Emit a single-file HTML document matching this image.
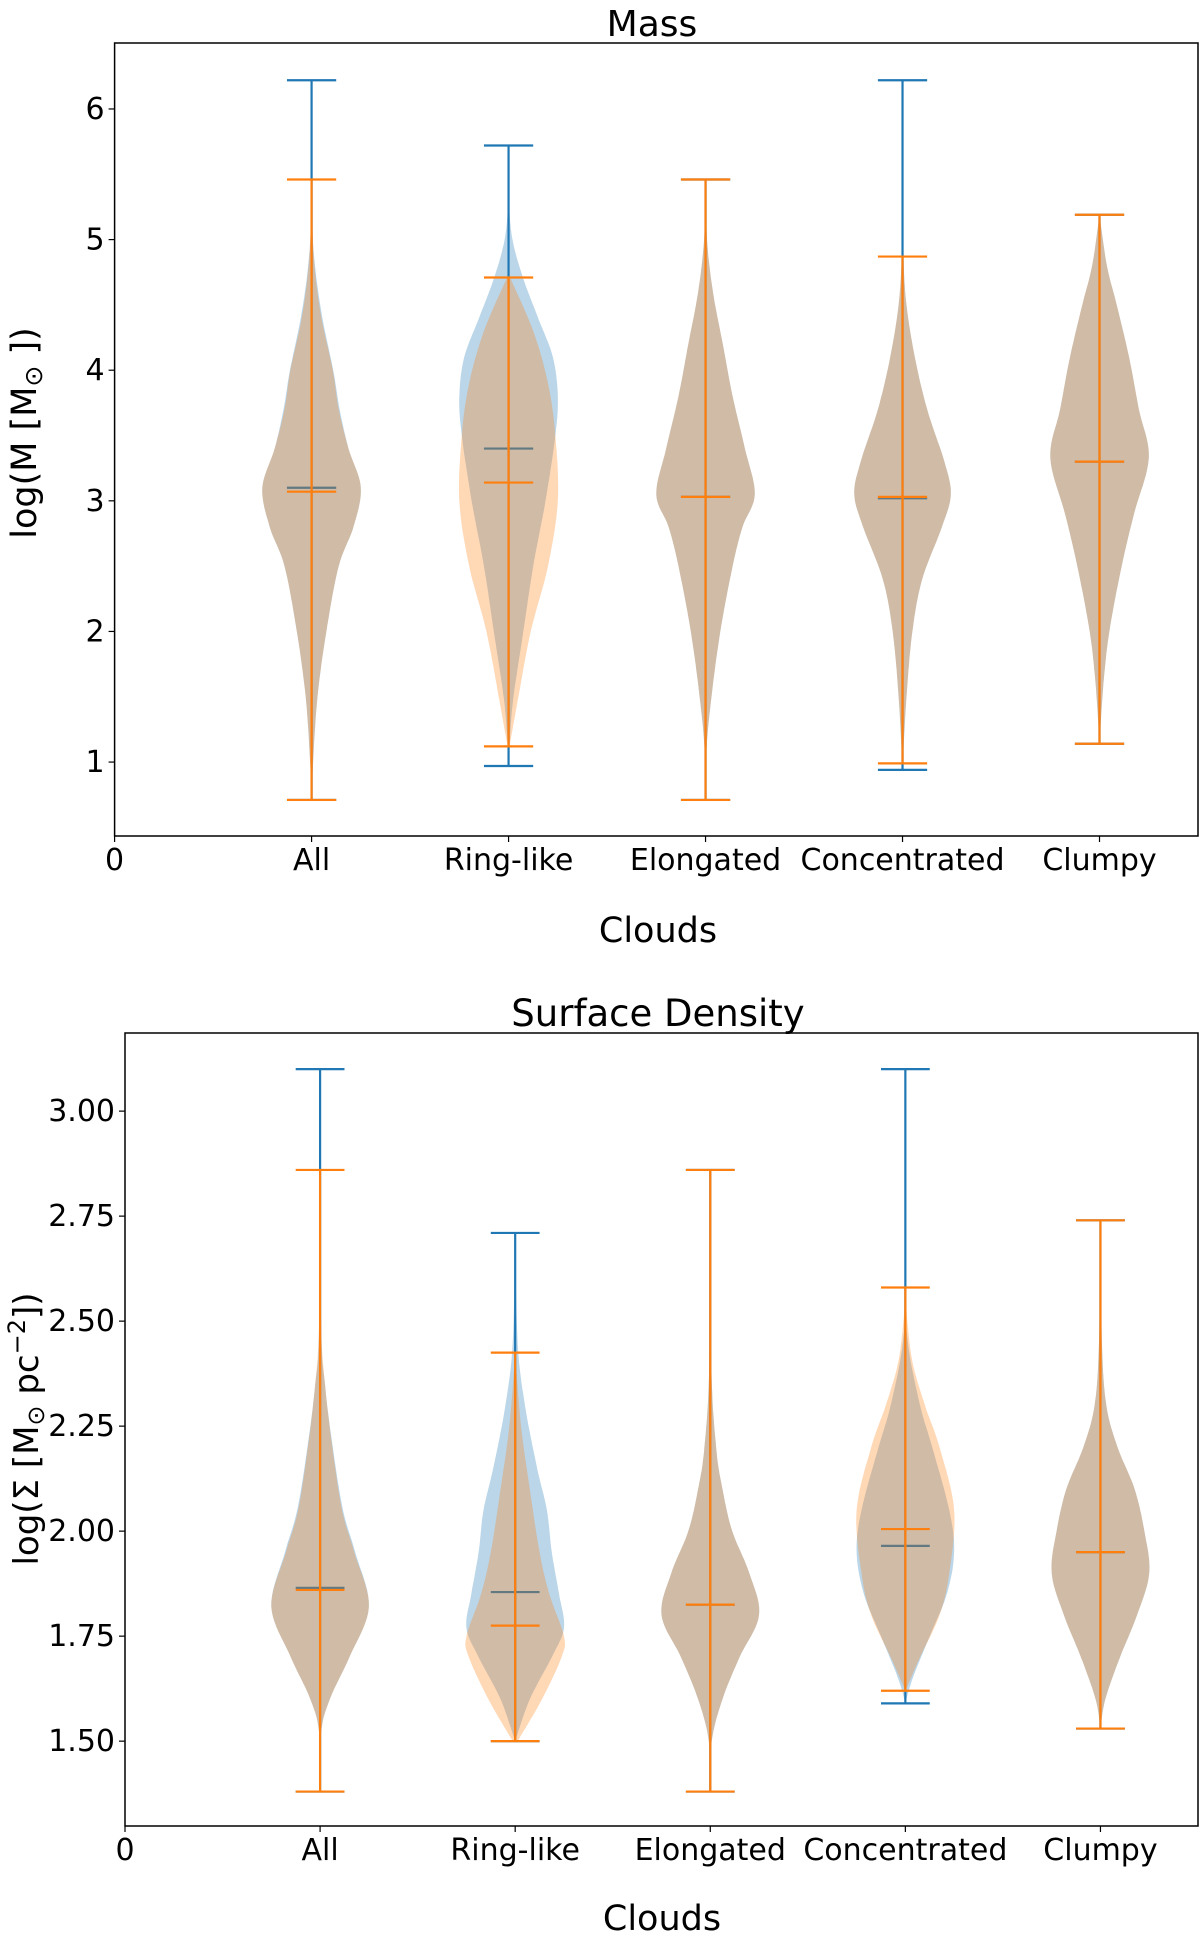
<!DOCTYPE html>
<html><head><meta charset="utf-8"><style>
html,body{margin:0;padding:0;background:#fff;}
svg{display:block;font-family:"DejaVu Sans","Liberation Sans",sans-serif;}
</style></head><body>
<svg id="fig" width="1200" height="1943" viewBox="0 0 1200 1943" xmlns="http://www.w3.org/2000/svg"></svg>
<script>
const categories = ["All","Ring-like","Elongated","Concentrated","Clumpy"];
// Mass panel
const massBlueMin = [0.71,0.97,0.71,0.94,1.14];
const massBlueMax = [6.22,5.72,5.46,6.22,5.19];
const massBlueMed = [3.10,3.40,3.03,3.02,3.30];
const massOrgMin = [0.71,1.12,0.71,0.99,1.14];
const massOrgMax = [5.46,4.71,5.46,4.87,5.19];
const massOrgMed = [3.07,3.14,3.03,3.03,3.30];
const massBlueShape = [
 [[0.71,0],[1.0,0.03],[1.5,0.12],[2.0,0.3],[2.5,0.55],[2.8,0.85],[3.1,1.0],[3.4,0.75],[3.7,0.57],[4.0,0.44],[4.4,0.22],[4.8,0.07],[5.2,0.01],[6.22,0]],
 [[0.97,0],[1.2,0.03],[1.5,0.1],[2.0,0.3],[2.5,0.5],[3.0,0.75],[3.5,0.95],[3.8,1.0],[4.1,0.9],[4.4,0.6],[4.7,0.3],[5.0,0.08],[5.3,0.01],[5.72,0]],
 [[0.71,0],[1.1,0.02],[1.5,0.12],[2.0,0.3],[2.5,0.55],[2.8,0.75],[3.05,1.0],[3.4,0.8],[3.8,0.55],[4.2,0.35],[4.6,0.15],[5.0,0.03],[5.46,0]],
 [[0.94,0],[1.5,0.08],[2.0,0.2],[2.4,0.4],[2.8,0.8],[3.05,0.98],[3.3,0.85],[3.7,0.5],[4.1,0.25],[4.5,0.08],[4.87,0.02],[5.5,0],[6.22,0]],
 [[1.14,0],[1.6,0.08],[2.0,0.2],[2.5,0.45],[2.9,0.7],[3.33,1.0],[3.7,0.8],[4.1,0.6],[4.5,0.35],[4.8,0.15],[5.19,0]]
];
const massOrgShape = [
 [[0.71,0],[1.0,0.03],[1.5,0.12],[2.0,0.3],[2.5,0.55],[2.8,0.85],[3.1,1.0],[3.4,0.75],[3.7,0.55],[4.0,0.43],[4.4,0.2],[4.8,0.06],[5.2,0.01],[5.46,0]],
 [[1.12,0.02],[1.5,0.2],[2.0,0.45],[2.5,0.8],[3.0,1.0],[3.5,0.95],[3.9,0.8],[4.3,0.5],[4.71,0.03]],
 [[0.71,0],[1.1,0.02],[1.5,0.12],[2.0,0.3],[2.5,0.55],[2.8,0.75],[3.05,1.0],[3.4,0.8],[3.8,0.55],[4.2,0.35],[4.6,0.15],[5.0,0.03],[5.46,0]],
 [[0.99,0],[1.5,0.08],[2.0,0.2],[2.4,0.4],[2.8,0.8],[3.05,0.98],[3.3,0.85],[3.7,0.5],[4.1,0.25],[4.5,0.08],[4.87,0.01]],
 [[1.14,0],[1.6,0.08],[2.0,0.2],[2.5,0.45],[2.9,0.7],[3.33,1.0],[3.7,0.8],[4.1,0.6],[4.5,0.35],[4.8,0.15],[5.19,0]]
];
const massTicks = [1,2,3,4,5,6];
// Surface density panel
const sdBlueMin = [1.38,1.50,1.38,1.59,1.53];
const sdBlueMax = [3.10,2.71,2.86,3.10,2.74];
const sdBlueMed = [1.865,1.855,1.825,1.965,1.95];
const sdOrgMin = [1.38,1.50,1.38,1.62,1.53];
const sdOrgMax = [2.86,2.425,2.86,2.58,2.74];
const sdOrgMed = [1.86,1.775,1.825,2.005,1.95];
const sdBlueShape = [
 [[1.38,0],[1.52,0.02],[1.6,0.2],[1.7,0.6],[1.82,1.0],[1.95,0.72],[2.05,0.47],[2.2,0.26],[2.35,0.1],[2.5,0.02],[3.10,0]],
 [[1.5,0],[1.6,0.3],[1.7,0.75],[1.77,1.0],[1.85,0.9],[1.95,0.75],[2.05,0.65],[2.15,0.45],[2.3,0.2],[2.45,0.05],[2.71,0]],
 [[1.38,0],[1.5,0.03],[1.6,0.25],[1.7,0.6],[1.8,1.0],[1.9,0.8],[2.0,0.45],[2.1,0.25],[2.2,0.12],[2.4,0.02],[2.86,0]],
 [[1.59,0],[1.65,0.15],[1.75,0.5],[1.85,0.85],[1.95,1.0],[2.05,0.9],[2.2,0.55],[2.3,0.3],[2.45,0.05],[2.6,0.01],[3.10,0]],
 [[1.53,0],[1.6,0.1],[1.7,0.4],[1.8,0.75],[1.9,1.0],[2.0,0.9],[2.1,0.7],[2.2,0.35],[2.3,0.12],[2.45,0.03],[2.74,0]]
];
const sdOrgShape = [
 [[1.38,0],[1.52,0.02],[1.6,0.2],[1.7,0.6],[1.82,1.0],[1.95,0.7],[2.05,0.45],[2.2,0.25],[2.35,0.1],[2.5,0.02],[2.86,0]],
 [[1.5,0.05],[1.6,0.55],[1.7,0.95],[1.75,1.0],[1.85,0.7],[1.95,0.5],[2.1,0.3],[2.25,0.12],[2.42,0]],
 [[1.38,0],[1.5,0.03],[1.6,0.25],[1.7,0.6],[1.8,1.0],[1.9,0.8],[2.0,0.45],[2.1,0.25],[2.2,0.12],[2.4,0.02],[2.86,0]],
 [[1.62,0],[1.7,0.3],[1.8,0.7],[1.9,0.9],[2.05,1.0],[2.2,0.7],[2.3,0.4],[2.4,0.15],[2.5,0.04],[2.58,0]],
 [[1.53,0],[1.6,0.1],[1.7,0.4],[1.8,0.75],[1.9,1.0],[2.0,0.9],[2.1,0.7],[2.2,0.35],[2.3,0.12],[2.45,0.03],[2.74,0]]
];
const sdTicks = [1.50,1.75,2.00,2.25,2.50,2.75,3.00];

const NS="http://www.w3.org/2000/svg";
const svg=document.getElementById('fig');
function el(tag,attrs,parent){const e=document.createElementNS(NS,tag);for(const k in attrs)e.setAttribute(k,attrs[k]);(parent||svg).appendChild(e);return e;}
const BLUE="#1f77b4", ORG="#ff7f0e";

function smoothPts(knots){
  const out=[];
  for(let i=0;i<knots.length-1;i++){
    const p0=knots[Math.max(0,i-1)],p1=knots[i],p2=knots[i+1],p3=knots[Math.min(knots.length-1,i+2)];
    for(let t=0;t<1;t+=0.1){
      const t2=t*t,t3=t2*t;
      const f=(a,b,c,d)=>0.5*((2*b)+(-a+c)*t+(2*a-5*b+4*c-d)*t2+(-a+3*b-3*c+d)*t3);
      out.push([f(p0[0],p1[0],p2[0],p3[0]),Math.max(0,f(p0[1],p1[1],p2[1],p3[1]))]);
    }
  }
  out.push(knots[knots.length-1]);
  return out;
}

function panel(cfg){
  const {L,R,T,B,xmax,ymin,ymax,pfx}=cfg;
  const g=el('g',{});
  
  
  const xs=v=>L+(R-L)*v/xmax;
  const ys=v=>B-(B-T)*(v-ymin)/(ymax-ymin);
  const unit=(R-L)/xmax;
  function series(shapes,mins,maxs,meds,col,name){
    shapes.forEach((kn,i)=>{
      const cx=xs(i+1);
      const pts=smoothPts(kn);
      let d="";
      pts.forEach((p,j)=>{d+=(j?"L":"M")+(cx+p[1]*0.25*unit).toFixed(1)+","+ys(p[0]).toFixed(1);});
      for(let j=pts.length-1;j>=0;j--){const p=pts[j];d+="L"+(cx-p[1]*0.25*unit).toFixed(1)+","+ys(p[0]).toFixed(1);}
      d+="Z";
      const v=el('path',{d:d,fill:col,'fill-opacity':0.3,stroke:'none'},g);
      
      
    });
    shapes.forEach((kn,i)=>{
      const cx=xs(i+1),cw=0.125*unit;
      const ln=el('line',{x1:cx,x2:cx,y1:ys(mins[i]),y2:ys(maxs[i]),stroke:col,'stroke-width':2.2},g);
      
      
      [[maxs[i],'max'],[mins[i],'min'],[meds[i],'median']].forEach(([v,k])=>{
        const c=el('line',{x1:cx-cw,x2:cx+cw,y1:ys(v),y2:ys(v),stroke:col,'stroke-width':2.2},g);
        
        
      });
    });
  }
  series(cfg.bShape,cfg.bMin,cfg.bMax,cfg.bMed,BLUE,'blue');
  series(cfg.oShape,cfg.oMin,cfg.oMax,cfg.oMed,ORG,'orange');
  const fr=el('rect',{x:L,y:T,width:R-L,height:B-T,fill:'none',stroke:'#000','stroke-width':1.5},g);
  
  
  cfg.ticks.forEach(v=>{
    const y=ys(v);
    const tk=el('line',{x1:L-6,x2:L,y1:y,y2:y,stroke:'#000','stroke-width':1.2},g);
    
    
    const t=el('text',{x:L-10,y:y+10,'text-anchor':'end','font-size':30},g);
    t.textContent=cfg.fmt(v);
    
    
  });
  const xl=["0"].concat(categories);
  xl.forEach((s,i)=>{
    const x=xs(i);
    const tk=el('line',{x1:x,x2:x,y1:B,y2:B+6,stroke:'#000','stroke-width':1.2},g);
    
    
    const t=el('text',{x:x,y:B+34,'text-anchor':'middle','font-size':30},g);
    t.textContent=s;
    
    
  });
}

panel({pfx:'mass',L:114.6,R:1198,T:43,B:836,xmax:5.5,ymin:0.434,ymax:6.505,
  bShape:massBlueShape,bMin:massBlueMin,bMax:massBlueMax,bMed:massBlueMed,
  oShape:massOrgShape,oMin:massOrgMin,oMax:massOrgMax,oMed:massOrgMed,
  ticks:massTicks,fmt:v=>String(v)});
panel({pfx:'sd',L:125,R:1198,T:1033,B:1826,xmax:5.5,ymin:1.298,ymax:3.186,
  bShape:sdBlueShape,bMin:sdBlueMin,bMax:sdBlueMax,bMed:sdBlueMed,
  oShape:sdOrgShape,oMin:sdOrgMin,oMax:sdOrgMax,oMed:sdOrgMed,
  ticks:sdTicks,fmt:v=>v.toFixed(2)});
</script>
<svg style="position:absolute;left:0;top:0" width="1200" height="1943" xmlns="http://www.w3.org/2000/svg" font-family="DejaVu Sans, Liberation Sans, sans-serif">
<text x="652" y="36" text-anchor="middle" font-size="36">Mass</text>
<text x="658" y="942" text-anchor="middle" font-size="35">Clouds</text>
<text transform="translate(36,433) rotate(-90)" text-anchor="middle" font-size="35">log(M [M<tspan font-size="25" dy="6">⊙</tspan><tspan dy="-6"> ])</tspan></text>
<text x="658" y="1026" text-anchor="middle" font-size="37">Surface Density</text>
<text x="662" y="1930" text-anchor="middle" font-size="35">Clouds</text>
<text transform="translate(38,1429) rotate(-90)" text-anchor="middle" font-size="34">log(Σ [M<tspan font-size="24" dy="6">⊙</tspan><tspan dy="-6"> pc</tspan><tspan font-size="24" dy="-13">−2</tspan><tspan dy="13">])</tspan></text>
</svg>
</body></html>
